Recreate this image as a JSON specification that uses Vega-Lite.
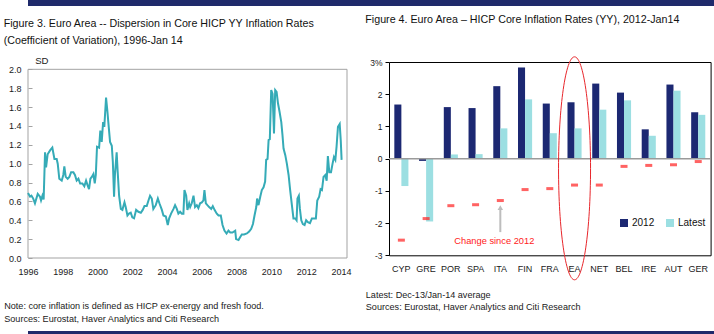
{
  "$schema": "https://vega.github.io/schema/vega-lite/v6.json",
  "padding": {"left": 3, "top": 0, "right": 0, "bottom": 0},
  "spacing": 7,
  "background": "white",
  "config": {
    "font": "Liberation Sans, Arial, sans-serif",
    "axis": {"labelFont": "Liberation Sans, Arial, sans-serif", "titleFont": "Liberation Sans, Arial, sans-serif", "labelColor": "#1a1a1a", "titleColor": "#1a1a1a", "titleFontWeight": "normal", "labelOverlap": false},
    "title": {"font": "Liberation Sans, Arial, sans-serif", "fontSize": 10.7, "fontWeight": "normal", "color": "#111111", "anchor": "start", "frame": "group"},
    "legend": {"labelFont": "Liberation Sans, Arial, sans-serif"}
  },
  "datasets": {
    "sd": [
      {"t": 1996.00, "v": 0.69}, {"t": 1996.12, "v": 0.65}, {"t": 1996.20, "v": 0.66}, {"t": 1996.30, "v": 0.63}, {"t": 1996.40, "v": 0.58},
      {"t": 1996.56, "v": 0.68}, {"t": 1996.69, "v": 0.65}, {"t": 1996.75, "v": 0.61}, {"t": 1996.83, "v": 0.66}, {"t": 1996.90, "v": 0.62},
      {"t": 1996.98, "v": 1.12}, {"t": 1997.04, "v": 0.96}, {"t": 1997.13, "v": 1.10}, {"t": 1997.27, "v": 1.14}, {"t": 1997.40, "v": 1.17},
      {"t": 1997.52, "v": 1.05}, {"t": 1997.65, "v": 1.05}, {"t": 1997.71, "v": 1.00}, {"t": 1997.80, "v": 0.84}, {"t": 1997.94, "v": 0.82},
      {"t": 1998.03, "v": 0.88}, {"t": 1998.09, "v": 0.97}, {"t": 1998.17, "v": 0.86}, {"t": 1998.28, "v": 0.84}, {"t": 1998.38, "v": 0.86},
      {"t": 1998.48, "v": 0.91}, {"t": 1998.61, "v": 0.91}, {"t": 1998.70, "v": 0.88}, {"t": 1998.80, "v": 0.82}, {"t": 1998.90, "v": 0.84},
      {"t": 1999.00, "v": 0.79}, {"t": 1999.13, "v": 0.79}, {"t": 1999.24, "v": 0.76}, {"t": 1999.34, "v": 0.82}, {"t": 1999.41, "v": 0.78},
      {"t": 1999.51, "v": 0.73}, {"t": 1999.59, "v": 0.84}, {"t": 1999.67, "v": 0.86}, {"t": 1999.76, "v": 0.89}, {"t": 1999.84, "v": 0.79},
      {"t": 1999.90, "v": 0.88}, {"t": 1999.97, "v": 1.18}, {"t": 2000.09, "v": 1.17}, {"t": 2000.16, "v": 1.35}, {"t": 2000.24, "v": 1.23},
      {"t": 2000.32, "v": 1.44}, {"t": 2000.39, "v": 1.39}, {"t": 2000.49, "v": 1.70}, {"t": 2000.57, "v": 1.55}, {"t": 2000.62, "v": 1.44},
      {"t": 2000.72, "v": 1.23}, {"t": 2000.82, "v": 1.19}, {"t": 2000.88, "v": 1.02}, {"t": 2000.95, "v": 0.65}, {"t": 2001.00, "v": 0.88},
      {"t": 2001.10, "v": 1.12}, {"t": 2001.16, "v": 0.91}, {"t": 2001.24, "v": 0.66}, {"t": 2001.34, "v": 0.52}, {"t": 2001.43, "v": 0.51},
      {"t": 2001.55, "v": 0.59}, {"t": 2001.62, "v": 0.54}, {"t": 2001.72, "v": 0.45}, {"t": 2001.81, "v": 0.47}, {"t": 2001.91, "v": 0.48},
      {"t": 2002.00, "v": 0.43}, {"t": 2002.10, "v": 0.42}, {"t": 2002.22, "v": 0.51}, {"t": 2002.35, "v": 0.49}, {"t": 2002.49, "v": 0.48},
      {"t": 2002.60, "v": 0.51}, {"t": 2002.70, "v": 0.55}, {"t": 2002.83, "v": 0.55}, {"t": 2002.93, "v": 0.61}, {"t": 2003.02, "v": 0.66},
      {"t": 2003.12, "v": 0.63}, {"t": 2003.21, "v": 0.52}, {"t": 2003.35, "v": 0.56}, {"t": 2003.47, "v": 0.63}, {"t": 2003.56, "v": 0.58},
      {"t": 2003.70, "v": 0.51}, {"t": 2003.79, "v": 0.45}, {"t": 2003.93, "v": 0.44}, {"t": 2004.04, "v": 0.35}, {"t": 2004.12, "v": 0.42},
      {"t": 2004.23, "v": 0.47}, {"t": 2004.37, "v": 0.52}, {"t": 2004.46, "v": 0.56}, {"t": 2004.56, "v": 0.52}, {"t": 2004.65, "v": 0.47},
      {"t": 2004.75, "v": 0.49}, {"t": 2004.85, "v": 0.47}, {"t": 2004.94, "v": 0.47}, {"t": 2005.00, "v": 0.72}, {"t": 2005.10, "v": 0.66},
      {"t": 2005.17, "v": 0.51}, {"t": 2005.27, "v": 0.58}, {"t": 2005.33, "v": 0.54}, {"t": 2005.42, "v": 0.58}, {"t": 2005.52, "v": 0.66},
      {"t": 2005.61, "v": 0.54}, {"t": 2005.71, "v": 0.56}, {"t": 2005.80, "v": 0.53}, {"t": 2005.90, "v": 0.58}, {"t": 2006.00, "v": 0.59},
      {"t": 2006.09, "v": 0.61}, {"t": 2006.15, "v": 0.72}, {"t": 2006.23, "v": 0.58}, {"t": 2006.32, "v": 0.56}, {"t": 2006.42, "v": 0.54},
      {"t": 2006.54, "v": 0.52}, {"t": 2006.63, "v": 0.55}, {"t": 2006.73, "v": 0.51}, {"t": 2006.86, "v": 0.47}, {"t": 2006.96, "v": 0.45},
      {"t": 2007.09, "v": 0.45}, {"t": 2007.19, "v": 0.35}, {"t": 2007.30, "v": 0.29}, {"t": 2007.42, "v": 0.26}, {"t": 2007.53, "v": 0.29},
      {"t": 2007.63, "v": 0.27}, {"t": 2007.76, "v": 0.27}, {"t": 2007.92, "v": 0.29}, {"t": 2007.97, "v": 0.20}, {"t": 2008.11, "v": 0.19},
      {"t": 2008.20, "v": 0.22}, {"t": 2008.30, "v": 0.25}, {"t": 2008.43, "v": 0.25}, {"t": 2008.59, "v": 0.26}, {"t": 2008.72, "v": 0.28},
      {"t": 2008.84, "v": 0.31}, {"t": 2008.94, "v": 0.36}, {"t": 2009.03, "v": 0.45}, {"t": 2009.13, "v": 0.54}, {"t": 2009.18, "v": 0.63},
      {"t": 2009.26, "v": 0.56}, {"t": 2009.36, "v": 0.65}, {"t": 2009.45, "v": 0.72}, {"t": 2009.55, "v": 0.75}, {"t": 2009.64, "v": 0.81},
      {"t": 2009.70, "v": 1.04}, {"t": 2009.78, "v": 1.05}, {"t": 2009.84, "v": 1.25}, {"t": 2009.91, "v": 1.26}, {"t": 2009.99, "v": 1.78},
      {"t": 2010.07, "v": 1.74}, {"t": 2010.15, "v": 1.32}, {"t": 2010.22, "v": 1.78}, {"t": 2010.30, "v": 1.76}, {"t": 2010.38, "v": 1.64},
      {"t": 2010.47, "v": 1.55}, {"t": 2010.57, "v": 1.44}, {"t": 2010.64, "v": 1.30}, {"t": 2010.70, "v": 1.16}, {"t": 2010.80, "v": 1.09},
      {"t": 2010.89, "v": 1.00}, {"t": 2010.99, "v": 0.88}, {"t": 2011.08, "v": 0.72}, {"t": 2011.18, "v": 0.56}, {"t": 2011.27, "v": 0.42},
      {"t": 2011.37, "v": 0.42}, {"t": 2011.45, "v": 0.40}, {"t": 2011.50, "v": 0.63}, {"t": 2011.58, "v": 0.66}, {"t": 2011.64, "v": 0.52},
      {"t": 2011.72, "v": 0.40}, {"t": 2011.81, "v": 0.36}, {"t": 2011.91, "v": 0.35}, {"t": 2012.00, "v": 0.40}, {"t": 2012.10, "v": 0.38},
      {"t": 2012.22, "v": 0.37}, {"t": 2012.33, "v": 0.42}, {"t": 2012.45, "v": 0.42}, {"t": 2012.56, "v": 0.42}, {"t": 2012.64, "v": 0.61},
      {"t": 2012.75, "v": 0.65}, {"t": 2012.83, "v": 0.73}, {"t": 2012.91, "v": 0.72}, {"t": 2013.00, "v": 0.86}, {"t": 2013.10, "v": 0.88},
      {"t": 2013.18, "v": 0.82}, {"t": 2013.25, "v": 1.08}, {"t": 2013.33, "v": 0.91}, {"t": 2013.43, "v": 0.91}, {"t": 2013.52, "v": 1.00},
      {"t": 2013.60, "v": 1.07}, {"t": 2013.68, "v": 1.04}, {"t": 2013.75, "v": 1.18}, {"t": 2013.83, "v": 1.39}, {"t": 2013.93, "v": 1.42},
      {"t": 2013.99, "v": 1.25}, {"t": 2014.04, "v": 1.04}
    ],
    "bars": [
      {"c": "CYP", "s": "2012", "v": 1.68}, {"c": "CYP", "s": "Latest", "v": -0.85},
      {"c": "GRE", "s": "2012", "v": -0.07}, {"c": "GRE", "s": "Latest", "v": -1.95},
      {"c": "POR", "s": "2012", "v": 1.60}, {"c": "POR", "s": "Latest", "v": 0.13},
      {"c": "SPA", "s": "2012", "v": 1.57}, {"c": "SPA", "s": "Latest", "v": 0.14},
      {"c": "ITA", "s": "2012", "v": 2.25}, {"c": "ITA", "s": "Latest", "v": 0.94},
      {"c": "FIN", "s": "2012", "v": 2.83}, {"c": "FIN", "s": "Latest", "v": 1.84},
      {"c": "FRA", "s": "2012", "v": 1.71}, {"c": "FRA", "s": "Latest", "v": 0.79},
      {"c": "EA", "s": "2012", "v": 1.75}, {"c": "EA", "s": "Latest", "v": 0.94},
      {"c": "NET", "s": "2012", "v": 2.33}, {"c": "NET", "s": "Latest", "v": 1.52},
      {"c": "BEL", "s": "2012", "v": 2.05}, {"c": "BEL", "s": "Latest", "v": 1.81},
      {"c": "IRE", "s": "2012", "v": 0.91}, {"c": "IRE", "s": "Latest", "v": 0.71},
      {"c": "AUT", "s": "2012", "v": 2.30}, {"c": "AUT", "s": "Latest", "v": 2.11},
      {"c": "GER", "s": "2012", "v": 1.44}, {"c": "GER", "s": "Latest", "v": 1.36}
    ],
    "chg": [
      {"c": "CYP", "d": -2.53}, {"c": "GRE", "d": -1.86}, {"c": "POR", "d": -1.46}, {"c": "SPA", "d": -1.43},
      {"c": "ITA", "d": -1.30}, {"c": "FIN", "d": -0.96}, {"c": "FRA", "d": -0.93}, {"c": "EA", "d": -0.82},
      {"c": "NET", "d": -0.82}, {"c": "BEL", "d": -0.24}, {"c": "IRE", "d": -0.21}, {"c": "AUT", "d": -0.19},
      {"c": "GER", "d": -0.09}
    ]
  },
  "vconcat": [
    {
      "width": 714, "height": 6,
      "view": {"stroke": null},
      "data": {"values": [{}]},
      "mark": {"type": "rect", "color": "#1f2a6b"},
      "encoding": {}
    },
    {
      "spacing": 13,
      "resolve": {"scale": {"color": "independent"}, "legend": {"color": "independent"}},
      "hconcat": [
        {
          "width": 319, "height": 196,
          "view": {"stroke": null},
          "title": {"text": ["Figure 3. Euro Area -- Dispersion in Core HICP YY Inflation Rates", "(Coefficient of Variation), 1996-Jan 14"], "dx": -24.3, "offset": 9.5, "lineHeight": 16.5},
          "layer": [
            {
              "data": {"values": [{}]},
              "mark": {"type": "rect", "fillOpacity": 0, "stroke": "#a3a3a3", "strokeWidth": 1},
              "encoding": {
                "x": {"datum": 1996, "type": "quantitative"},
                "x2": {"datum": 2014.35},
                "y": {"datum": 0, "type": "quantitative"},
                "y2": {"datum": 2}
              }
            },
            {
              "data": {"name": "sd"},
              "mark": {"type": "line", "color": "#35abb7", "strokeWidth": 2},
              "encoding": {
                "x": {
                  "field": "t", "type": "quantitative",
                  "scale": {"domain": [1996, 2014.35], "nice": false, "zero": false},
                  "axis": {
                    "values": [1996, 1998, 2000, 2002, 2004, 2006, 2008, 2010, 2012, 2014], "tickCount": 30, "labelOverlap": false,
                    "format": "d", "grid": false, "ticks": false, "domain": false,
                    "labelFlush": false, "labelFontSize": 9, "labelPadding": 9,
                    "title": ["Note: core inflation is defined as HICP ex-energy and fresh food.", "Sources: Eurostat, Haver Analytics and Citi Research"],
                    "titleFontSize": 9.1, "titleAnchor": "start", "titleAlign": "left", "titleBaseline": "alphabetic",
                    "titleX": -24.3, "titleY": 50.5, "titleLineHeight": 13
                  }
                },
                "y": {
                  "field": "v", "type": "quantitative",
                  "scale": {"domain": [0, 2.0776], "nice": false},
                  "axis": {
                    "values": [0, 0.2, 0.4, 0.6, 0.8, 1.0, 1.2, 1.4, 1.6, 1.8, 2.0], "tickCount": 30, "labelOverlap": false,
                    "format": ".1f", "grid": false, "domain": false,
                    "tickSize": -4, "tickColor": "#a3a3a3", "labelPadding": 11,
                    "labelFontSize": 9,
                    "title": "SD", "titleAngle": 0, "titleAlign": "left", "titleBaseline": "alphabetic",
                    "titleX": 6.7, "titleY": 1.7, "titleFontSize": 9.6
                  }
                }
              }
            }
          ]
        },
        {
          "width": 321.6, "height": 193.3,
          "view": {"stroke": "#000000", "strokeWidth": 1},
          "title": {"text": "Figure 4. Euro Area \u2013 HICP Core Inflation Rates (YY), 2012-Jan14", "dx": -23.7, "offset": 29},
          "layer": [
            {
              "data": {"name": "bars"},
              "mark": {"type": "bar"},
              "encoding": {
                "x": {
                  "field": "c", "type": "nominal",
                  "sort": null,
                  "scale": {"domain": ["CYP", "GRE", "POR", "SPA", "ITA", "FIN", "FRA", "EA", "NET", "BEL", "IRE", "AUT", "GER"], "paddingInner": 0.43, "paddingOuter": 0.215},
                  "axis": {
                    "labelAngle": 0, "ticks": false, "domain": false, "labelFontSize": 9, "labelPadding": 9,
                    "title": ["Latest: Dec-13/Jan-14 average", "Sources: Eurostat, Haver Analytics and Citi Research"],
                    "titleFontSize": 9.1, "titleAnchor": "start", "titleAlign": "left", "titleBaseline": "alphabetic",
                    "titleX": -23.7, "titleY": 42.2, "titleLineHeight": 12
                  }
                },
                "xOffset": {"field": "s", "type": "nominal", "sort": ["2012", "Latest"]},
                "y": {
                  "field": "v", "type": "quantitative",
                  "scale": {"domain": [-3, 3], "nice": false},
                  "axis": {
                    "values": [-3, -2, -1, 0, 1, 2, 3], "tickCount": 30, "labelOverlap": false,
                    "labelExpr": "datum.value == 3 ? '3%' : (datum.value < 0 ? '-' + abs(datum.value) : '' + datum.value)",
                    "grid": false, "domain": false, "tickSize": 4, "tickColor": "#000000",
                    "labelPadding": 3, "labelFontSize": 8.5, "title": null
                  }
                },
                "color": {
                  "field": "s", "type": "nominal",
                  "scale": {"domain": ["2012", "Latest"], "range": ["#1c2872", "#9cdfe2"]},
                  "legend": {
                    "orient": "none", "legendX": 230, "legendY": 156, "direction": "horizontal", "title": null,
                    "symbolType": "square", "symbolSize": 64, "symbolStrokeWidth": 0, "labelFontSize": 10,
                    "labelOffset": 3, "columnPadding": 10, "padding": 0, "labelColor": "#111111"
                  }
                }
              }
            },
            {
              "data": {"values": [{}]},
              "mark": {"type": "rule", "color": "#9a9a9a", "strokeWidth": 1.5},
              "encoding": {"y": {"datum": 0, "type": "quantitative"}}
            },
            {
              "data": {"name": "chg"},
              "mark": {"type": "tick", "color": "#ff2121", "thickness": 3, "size": 7},
              "encoding": {
                "x": {"field": "c", "type": "nominal"},
                "y": {"field": "d", "type": "quantitative"}
              }
            },
            {
              "data": {"values": [{}]},
              "mark": {"type": "rule", "color": "#bdbdbd", "strokeWidth": 2},
              "encoding": {
                "x": {"datum": "ITA", "type": "nominal"},
                "y": {"datum": -1.55, "type": "quantitative"},
                "y2": {"datum": -2.28}
              }
            },
            {
              "data": {"values": [{}]},
              "mark": {"type": "point", "shape": "triangle-up", "size": 30, "filled": true, "color": "#bdbdbd", "opacity": 1},
              "encoding": {
                "x": {"datum": "ITA", "type": "nominal"},
                "y": {"datum": -1.52, "type": "quantitative"}
              }
            },
            {
              "data": {"values": [{"label": "Change since 2012"}]},
              "mark": {"type": "text", "color": "#ff2121", "fontSize": 9.3, "dx": -6, "align": "center", "baseline": "middle"},
              "encoding": {
                "x": {"datum": "ITA", "type": "nominal"},
                "y": {"datum": -2.57, "type": "quantitative"},
                "text": {"field": "label"}
              }
            },
            {
              "data": {"values": [{}]},
              "mark": {
                "type": "point",
                "shape": "M 0 -1 C 0.0793 -1 0.1435 -0.5523 0.1435 0 C 0.1435 0.5523 0.0793 1 0 1 C -0.0793 1 -0.1435 0.5523 -0.1435 0 C -0.1435 -0.5523 -0.0793 -1 0 -1 Z",
                "size": 49729, "filled": false, "stroke": "#e8262b", "strokeWidth": 1, "opacity": 1
              },
              "encoding": {
                "x": {"datum": "EA", "type": "nominal"},
                "y": {"datum": -0.30, "type": "quantitative"}
              }
            }
          ]
        }
      ]
    },
    {
      "width": 714, "height": 7,
      "view": {"stroke": null},
      "data": {"values": [{}]},
      "mark": {"type": "rect", "color": "#1f2a6b"},
      "encoding": {}
    }
  ]
}
